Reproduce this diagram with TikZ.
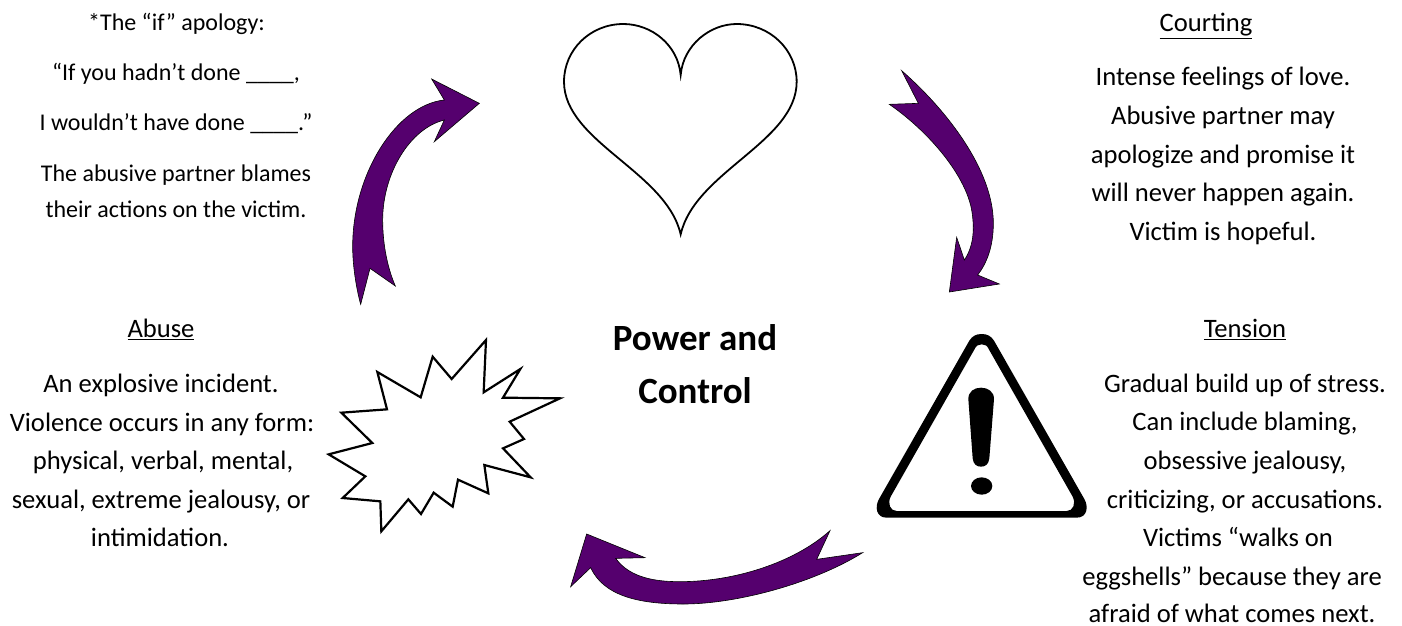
\documentclass[tikz,border=0pt]{standalone}
\usepackage{fontspec}
\setmainfont{Carlito}
\definecolor{arrowpurple}{HTML}{55006E}
\tikzset{
  x=1pt,y=-1pt,
  txt/.style={anchor=base,inner sep=0pt,outer sep=0pt,yshift=-0.8pt,font=\fontsize{26.6}{28}\selectfont},
  small/.style={anchor=base,inner sep=0pt,outer sep=0pt,font=\fontsize{24}{26}\selectfont},
  big/.style={anchor=base,inner sep=0pt,outer sep=0pt,yshift=-0.8pt,font=\fontsize{37}{40}\selectfont\bfseries},
  curvedarrow/.style={fill=arrowpurple,draw=black,line width=0.6pt,line join=miter},
  outline/.style={draw=black,fill=white,line join=miter},
  zoomed/.style={x=0.33333pt,y=-0.33333pt},
}
\begin{document}
\begin{tikzpicture}
\useasboundingbox (0,0) rectangle (1402,625);
\fill[white] (0,0) rectangle (1402,625);
% heart
\begin{scope}[shift={(555,15)},zoomed]
\draw[outline,line width=1.8pt] (377,180) .. controls (385,90) and (465,27) .. (545,27)
  .. controls (645,27) and (725,105) .. (725,200)
  .. controls (725,380) and (420,470) .. (377,658)
  .. controls (334,470) and (27,380) .. (27,200)
  .. controls (27,105) and (105,27) .. (205,27)
  .. controls (290,27) and (369,90) .. cycle;
\end{scope}
% left arrow
\begin{scope}[shift={(340,60)},zoomed]
\draw[curvedarrow] (418,130) -- (275,57) -- (313,120)
  .. controls (170,135) and (38,340) .. (38,560)
  .. controls (38,620) and (50,690) .. (62,733)
  -- (90,625) -- (166,678)
  .. controls (145,630) and (128,560) .. (128,480)
  .. controls (128,340) and (210,205) .. (313,180)
  -- (283,245) -- cycle;
\end{scope}
% right arrow
\begin{scope}[shift={(870,60)},zoomed]
\draw[curvedarrow] (95,32) .. controls (230,150) and (370,330) .. (370,490)
  .. controls (370,560) and (350,610) .. (323,645)
  -- (388,672) -- (238,696) -- (260,532) -- (283,600)
  .. controls (310,560) and (315,510) .. (305,450)
  .. controls (285,340) and (170,210) .. (58,133)
  -- (145,130) -- cycle;
\end{scope}
% bottom arrow
\begin{scope}[shift={(560,520)},zoomed]
\draw[curvedarrow] (80,42) -- (255,113) -- (167,115)
  .. controls (210,175) and (290,185) .. (360,185)
  .. controls (520,185) and (700,130) .. (810,32)
  -- (770,118) -- (908,98)
  .. controls (760,190) and (530,252) .. (370,252)
  .. controls (230,252) and (130,225) .. (92,143)
  -- (32,200) -- cycle;
\end{scope}
% star
\begin{scope}[shift={(320,330)},zoomed]
\draw[outline,line width=2.2pt] (498,30) -- (491,187) -- (601,117) -- (549,203) -- (720,205)
 -- (569,275) -- (612,327) -- (549,355) -- (632,442) -- (493,405) -- (505,490) -- (414,449)
 -- (398,530) -- (341,488) -- (303,552) -- (265,508) -- (184,604) -- (181,514) -- (68,504)
 -- (136,439) -- (26,373) -- (157,339) -- (64,248) -- (201,238) -- (172,126) -- (302,202)
 -- (338,80) -- (395,147) -- cycle;
\end{scope}
% warning triangle
\begin{scope}[shift={(870,325)},zoomed]
\fill[black,even odd rule]
  (335,27) .. controls (318,27) and (307,33) .. (298,47)
  -- (27,522) .. controls (14,545) and (18,578) .. (50,578)
  -- (620,578) .. controls (652,578) and (656,545) .. (643,522)
  -- (372,47) .. controls (363,33) and (352,27) .. (335,27) -- cycle
  (335,58) .. controls (325,58) and (318,62) .. (314,72)
  -- (62,515) .. controls (52,535) and (60,558) .. (80,558)
  -- (590,558) .. controls (610,558) and (618,535) .. (608,515)
  -- (356,72) .. controls (352,62) and (345,58) .. (335,58) -- cycle;
\fill[black] (295,222) .. controls (295,200) and (312,188) .. (333,188)
  .. controls (354,188) and (372,200) .. (372,222)
  -- (358,400) .. controls (356,418) and (346,425) .. (333,425)
  .. controls (320,425) and (310,418) .. (308,400) -- cycle;
\fill[black] (335,483) ellipse [x radius=32,y radius=26];
\end{scope}
% top-left text
\node[small] (q1) at (176.5,30) {*The “if” apology:};
\node[small] (q2) at (176,80) {“If you hadn’t done \_\_\_\_,};
\node[small] (q3) at (176,130) {I wouldn’t have done \_\_\_\_.”};
\node[small] (q4) at (176,181) {The abusive partner blames};
\node[small] (q5) at (176,217) {their actions on the victim.};
% abuse
\node[txt] (abt) at (161,337) {\underline{Abuse}};
\node[txt] (ab1) at (161,392) {An explosive incident.};
\node[txt] (ab2) at (162,431) {Violence occurs in any form:};
\node[txt] (ab3) at (163,469) {physical, verbal, mental,};
\node[txt] (ab4) at (161,508) {sexual, extreme jealousy, or};
\node[txt] (ab5) at (160,546) {intimidation.};
% courting
\node[txt] (cot) at (1206,31) {\underline{Courting}};
\node[txt] (co1) at (1223,85) {Intense feelings of love.};
\node[txt] (co2) at (1223,124) {Abusive partner may};
\node[txt] (co3) at (1223,163) {apologize and promise it};
\node[txt] (co4) at (1223,201) {will never happen again.};
\node[txt] (co5) at (1223,240) {Victim is hopeful.};
% tension
\node[txt] (tet) at (1245,337) {\underline{Tension}};
\node[txt] (te1) at (1245,392) {Gradual build up of stress.};
\node[txt] (te2) at (1245,430) {Can include blaming,};
\node[txt] (te3) at (1245,469) {obsessive jealousy,};
\node[txt] (te4) at (1245,508) {criticizing, or accusations.};
\node[txt] (te5) at (1238,546) {Victims “walks on};
\node[txt] (te6) at (1232,585) {eggshells” because they are};
\node[txt] (te7) at (1232,622) {afraid of what comes next.};
% centre
\node[big] (pc1) at (695,350) {Power and};
\node[big] (pc2) at (695,403) {Control};
\end{tikzpicture}
\end{document}
